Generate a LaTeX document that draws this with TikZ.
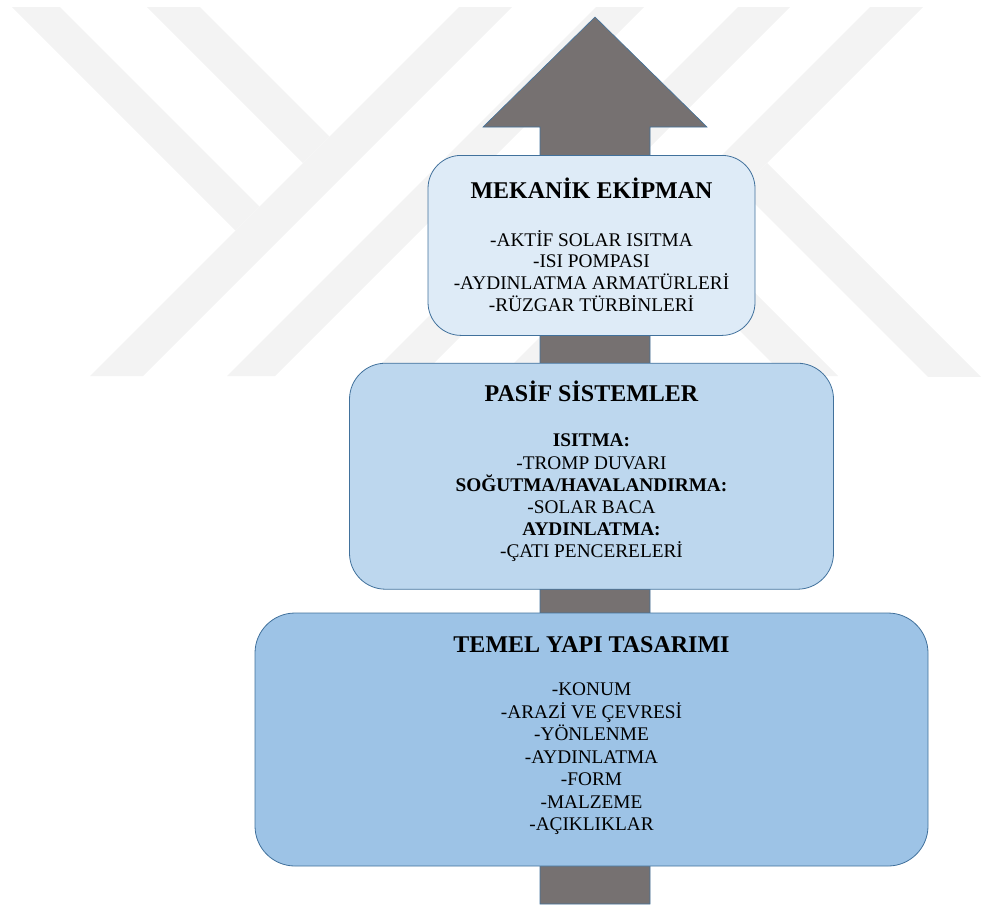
\documentclass[tikz,border=0pt]{standalone}
\usepackage{fontspec}
\setmainfont{Liberation Serif}
\usetikzlibrary{positioning,calc}
\definecolor{cMark} {RGB}{243,243,243}
\definecolor{cShaft}{RGB}{118,113,113}
\definecolor{cEdge} {RGB}{65,113,156}
\definecolor{cMek}  {RGB}{222,235,247}
\definecolor{cPas}  {RGB}{189,215,238}
\definecolor{cTem}  {RGB}{157,195,230}

\begin{document}
\begin{tikzpicture}[
  x=1pt,y=-1pt,
  tier/.style={draw=cEdge,line width=0.8pt,inner sep=0pt},
  head/.style={anchor=base,inner sep=0pt,font=\fontsize{24}{28}\selectfont\bfseries},
  items/.style={anchor=base,inner sep=0pt,align=center},
  shaft/.style={fill=cShaft,draw=cEdge,line width=0.6pt},
]
\useasboundingbox (0,0) rectangle (981,906);
% faint watermark behind everything
\begin{scope}
  \clip (0,7) rectangle (981,376);
  \fill[cMark] (90,376) -- (143,376) -- (512,7) -- (459,7) -- cycle;
  \fill[cMark] (227,376) -- (275,376) -- (644,7) -- (596,7) -- cycle;
  \fill[cMark] (12,7) -- (60,7) -- (259.5,206.5) -- (235.5,230.5) -- cycle;
  \fill[cMark] (147,7) -- (200,7) -- (329.5,136.5) -- (303,163) -- cycle;
  \fill[cMark] (738,7) -- (790,7) -- (421,376) -- (369,376) -- cycle;
  \fill[cMark] (870,7) -- (923,7) -- (554,376) -- (501,376) -- cycle;
  \fill[cMark] (767,163) -- (990,386) -- (937,386) -- (740.5,189.5) -- cycle;
  \fill[cMark] (696,234) -- (838,376) -- (785,376) -- (669.5,260.5) -- cycle;
\end{scope}
% big arrow
\coordinate (tip) at (595,17);
\coordinate (foot) at (595,904);
\draw[shaft] ($(foot)+(-55,0)$) -- ($(tip)+(-55,110)$) -- ($(tip)+(-112,110)$)
  -- (tip) -- ($(tip)+(112,110)$) -- ($(tip)+(55,110)$) -- ($(foot)+(55,0)$) -- cycle;
% tiers, bottom up
\node[tier,fill=cTem,rounded corners=40pt,minimum width=673,minimum height=253] (tem) at (591.5,739.5) {};
\node[tier,fill=cPas,rounded corners=36pt,minimum width=484,minimum height=226,above=23pt of tem] (pas) {};
\node[tier,fill=cMek,rounded corners=33pt,minimum width=327,minimum height=180,above=27pt of pas] (mek) {};
% texts (lists sit on their last line)
\node[head] (mekh) at ($(mek.north)+(0,43)$) {MEKANİK EKİPMAN};
\node[items,font=\fontsize{19.3}{21.6}\selectfont] (mekl) at ($(mek.north)+(0,156)$)
  {-AKTİF SOLAR ISITMA\\-ISI POMPASI\\-AYDINLATMA ARMATÜRLERİ\\-RÜZGAR TÜRBİNLERİ};
\node[head] (pash) at ($(pas.north)+(0,39)$) {PASİF SİSTEMLER};
\node[items,font=\fontsize{19.3}{22.2}\selectfont] (pasl) at ($(pas.north)+(0,195)$)
  {\textbf{ISITMA:}\\-TROMP DUVARI\\\textbf{SOĞUTMA/HAVALANDIRMA:}\\-SOLAR BACA\\\textbf{AYDINLATMA:}\\-ÇATI PENCERELERİ};
\node[head] (temh) at ($(tem.north)+(0,40)$) {TEMEL YAPI TASARIMI};
\node[items,font=\fontsize{19.3}{22.5}\selectfont] (teml) at ($(tem.north)+(0,218)$)
  {-KONUM\\-ARAZİ VE ÇEVRESİ\\-YÖNLENME\\-AYDINLATMA\\-FORM\\-MALZEME\\-AÇIKLIKLAR};
\end{tikzpicture}
\end{document}
